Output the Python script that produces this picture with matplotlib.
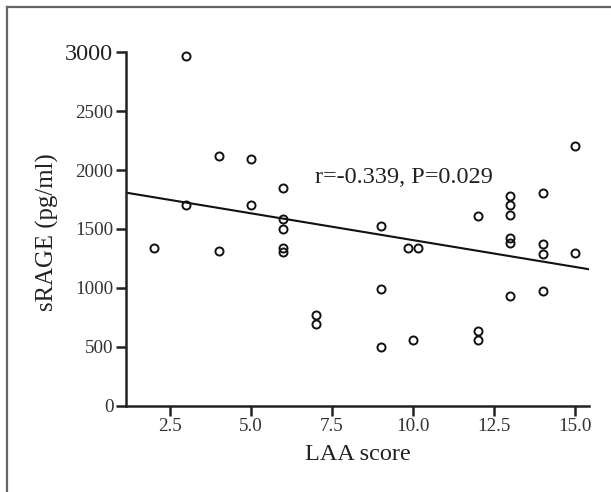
import numpy as np
import matplotlib
matplotlib.use("Agg")
from matplotlib import pyplot as plt
from matplotlib.lines import Line2D

# LAA score vs sRAGE
laa_score = [2, 3, 3, 4, 4, 5, 5, 6, 6, 6, 6, 6, 7, 7,
             9, 9, 9, 9.85, 10.15, 10, 12, 12, 12,
             13, 13, 13, 13, 13, 13, 14, 14, 14, 14, 15, 15]
srage = [1340, 2970, 1700, 2120, 1310, 2090, 1700, 1850, 1580, 1500, 1340, 1300, 770, 690,
         1525, 990, 500, 1335, 1335, 555, 1610, 635, 555,
         1780, 1700, 1615, 1425, 1380, 935, 1805, 1375, 1285, 970, 2200, 1295]

# regression line as drawn
fit_intercept = 1860
fit_slope = -45.5
stats_text = "r=-0.339, P=0.029"

x_ticks = [2.5, 5.0, 7.5, 10.0, 12.5, 15.0]
y_ticks = [0, 500, 1000, 1500, 2000, 2500, 3000]

plt.rcParams['font.family'] = ['Liberation Serif', 'DejaVu Serif']

fig = plt.figure(figsize=(6.11, 4.92), dpi=100)
ax = fig.add_axes([0.206, 0.1754, 0.758, 0.7186])

ax.plot(laa_score, srage, 'o', mfc='none', mec='#111111', ms=5.8, mew=1.4, clip_on=False)

xl = (1.14, 15.43)
xs = np.array(xl)
ax.plot(xs, fit_intercept + fit_slope * xs, color='#111111', lw=1.5)

ax.text(6.98, 1933, stats_text, fontsize=17.5, va='center', ha='left', color='#222222')

ax.set_xlim(xl)
ax.set_ylim(0, 3000)
ax.set_xticks(x_ticks)
ax.set_xticklabels(["%.1f" % t for t in x_ticks])
ax.set_yticks(y_ticks)
ax.set_yticklabels([str(t) for t in y_ticks])

for s in ['top', 'right']:
  ax.spines[s].set_visible(False)
for s in ['left', 'bottom']:
  ax.spines[s].set_linewidth(1.8)
  ax.spines[s].set_color('#222222')

ax.tick_params(axis='both', direction='out', length=7, width=1.8, color='#222222',
               labelsize=13.8, labelcolor='#333333', pad=2)
# the top label is printed larger in the original
ax.get_yticklabels()[-1].set_fontsize(17.5)
ax.get_yticklabels()[-1].set_color('#222222')

ax.set_xlabel("LAA score", fontsize=17.5, color='#222222', labelpad=6)
ax.set_ylabel("sRAGE (pg/ml)", fontsize=17.8, color='#222222')
ax.yaxis.set_label_coords(-0.145, 0.49)

# outer frame (left and top edges visible)
fig.add_artist(Line2D([7/611, 7/611], [0, 1 - 7/492], color='#666666', lw=1.6, transform=fig.transFigure))
fig.add_artist(Line2D([7/611, 1], [1 - 7/492, 1 - 7/492], color='#666666', lw=1.6, transform=fig.transFigure))

fig.savefig("out.png", dpi=100)
